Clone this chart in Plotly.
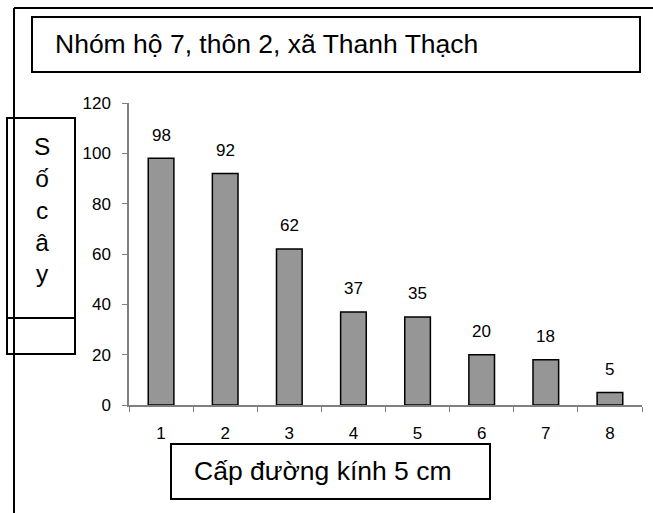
import plotly.graph_objects as go

# Số cây theo cấp đường kính (mỗi cấp 5 cm)
cap_duong_kinh = ["1", "2", "3", "4", "5", "6", "7", "8"]
so_cay = [98, 92, 62, 37, 35, 20, 18, 5]
y_ticks = [0, 20, 40, 60, 80, 100, 120]

tieu_de = "Nhóm hộ 7, thôn 2, xã Thanh Thạch"
nhan_truc_y = "Số cây"
nhan_truc_x = "Cấp đường kính 5 cm"

W, H = 653, 513
ML, MR, MT, MB = 129, 11, 103, 108
FONT = "Liberation Sans, Arial, Helvetica, sans-serif"

plot_w = W - ML - MR
plot_h = H - MT - MB


def px(x):
    return (x - ML) / plot_w


def py(y):
    return (H - MB - y) / plot_h


fig = go.Figure()
fig.add_trace(go.Bar(
    x=cap_duong_kinh,
    y=so_cay,
    marker=dict(color="#969696", line=dict(color="black", width=1.5)),
    hoverinfo="skip",
))

annotations = []
# value labels above each bar (x given as category index)
for i, v in enumerate(so_cay):
    annotations.append(dict(
        x=i, y=v, xref="x", yref="y", text=str(v), showarrow=False,
        yanchor="middle", yshift=23, font=dict(size=17, color="black", family=FONT),
    ))

# chart title, y-axis caption (one letter per line) and x-axis caption
annotations.append(dict(
    x=px(53), y=py(44), xref="paper", yref="paper", text=tieu_de,
    showarrow=False, xanchor="left", yanchor="middle",
    font=dict(size=26.5, color="black", family=FONT),
))
annotations.append(dict(
    x=px(42), y=py(131), xref="paper", yref="paper",
    text="<br>".join(list(nhan_truc_y.replace(" ", ""))),
    showarrow=False, xanchor="center", yanchor="top",
    font=dict(size=24.5, color="black", family=FONT),
))
annotations.append(dict(
    x=px(192), y=py(471), xref="paper", yref="paper", text=nhan_truc_x,
    showarrow=False, xanchor="left", yanchor="middle",
    font=dict(size=26.5, color="black", family=FONT),
))

shapes = [
    # outer frame (left and top edges)
    dict(type="line", xref="paper", yref="paper", x0=px(14), y0=py(8), x1=px(14), y1=py(H + 5),
         line=dict(color="black", width=2)),
    dict(type="line", xref="paper", yref="paper", x0=px(14), y0=py(8), x1=px(W + 5), y1=py(8),
         line=dict(color="black", width=2)),
    # title box
    dict(type="rect", xref="paper", yref="paper", x0=px(32), y0=py(17), x1=px(640), y1=py(72),
         line=dict(color="black", width=2), fillcolor="white", layer="below"),
    # y caption box with its inner divider
    dict(type="rect", xref="paper", yref="paper", x0=px(7), y0=py(118), x1=px(75), y1=py(354),
         line=dict(color="black", width=2), fillcolor="white", layer="below"),
    dict(type="line", xref="paper", yref="paper", x0=px(7), y0=py(318), x1=px(75), y1=py(318),
         line=dict(color="black", width=2)),
    # x caption box
    dict(type="rect", xref="paper", yref="paper", x0=px(171), y0=py(444), x1=px(490), y1=py(499),
         line=dict(color="black", width=2), fillcolor="white", layer="below"),
]

fig.update_layout(
    width=W, height=H,
    margin=dict(l=ML, r=MR, t=MT, b=MB),
    paper_bgcolor="white", plot_bgcolor="white",
    showlegend=False,
    bargap=0.6,
    annotations=annotations,
    shapes=shapes,
    font=dict(family=FONT, color="black"),
)
fig.update_xaxes(
    type="category", tickson="boundaries", range=[-0.5, len(cap_duong_kinh) - 0.5],
    showline=True, linecolor="#808080", linewidth=1.5,
    ticks="outside", ticklen=5, tickcolor="#808080", tickwidth=1,
    showgrid=False, zeroline=False,
    tickfont=dict(size=17, color="black", family=FONT),
    ticklabelstandoff=12,
)
fig.update_yaxes(
    range=[0, 120], tickvals=y_ticks,
    showline=True, linecolor="#808080", linewidth=1.5,
    ticks="outside", ticklen=5, tickcolor="#808080", tickwidth=1,
    showgrid=False, zeroline=False,
    tickfont=dict(size=17, color="black", family=FONT),
    ticklabelstandoff=8,
)

fig.write_html("out.html")
